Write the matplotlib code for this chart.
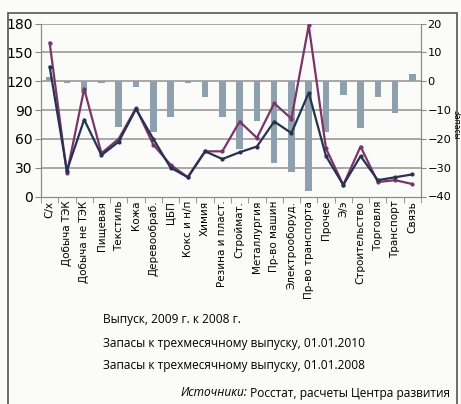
import numpy as np
import matplotlib.pyplot as plt
from matplotlib.patches import Rectangle

plt.rcParams['font.family'] = ['Liberation Sans Narrow', 'DejaVu Sans']

branches = ['С/х', 'Добыча ТЭК', 'Добыча не ТЭК', 'Пищевая', 'Текстиль', 'Кожа',
            'Деревообраб.', 'ЦБП', 'Кокс и н/п', 'Химия', 'Резина и пласт.',
            'Строймат.', 'Металлургия', 'Пр-во машин', 'Электрооборуд.',
            'Пр-во транспорта', 'Прочее', 'Э/э', 'Строительство', 'Торговля',
            'Транспорт', 'Связь']
# выпуск 2009 к 2008, % (правая ось)
output_chg = [1.5, -0.5, -4, -0.5, -15.8, -2.1, -17.5, -12.5, -0.6, -5.4, -12.3,
              -23.6, -13.8, -28.5, -31.6, -38, -17.8, -4.8, -16.4, -5.4, -11.1, 2.5]
# запасы к трехмесячному выпуску (левая ось)
stock_2010 = [160, 24, 112, 45, 60, 92, 54, 33, 20, 47, 47,
              78, 61, 97, 81, 178, 50, 12, 52, 15, 17, 13]
stock_2008 = [135, 27, 80, 43, 57, 91, 60, 30, 20, 47, 39,
              46, 52, 78, 66, 108, 42, 12, 42, 17, 20, 23]

bg = '#fbfbf9'
fig = plt.figure(figsize=(4.61, 4.04), dpi=100, facecolor=bg)
fig.patches.append(Rectangle((8 / 461, -0.01), 449 / 461, 1 - 13 / 404 + 0.01,
                             transform=fig.transFigure, fill=False,
                             edgecolor='#555555', lw=1.2))

ax2 = fig.add_axes([41 / 461, 1 - 196.5 / 404, 380 / 461, 173 / 404])
ax1 = ax2.twinx()
ax2.set_facecolor(bg)

x = np.arange(len(branches))
ax2.bar(x, output_chg, width=0.38, color='#8e9fae', zorder=3)
ax2.set_ylim(-40, 20)
ax2.set_yticks(range(-40, 21, 10))
ax2.yaxis.tick_right()
for v in range(-30, 21, 10):
    ax2.axhline(v, color='#9a9a9a', lw=1.2, zorder=1)

ax1.set_zorder(ax2.get_zorder() + 1)
ax1.patch.set_visible(False)
ax1.yaxis.tick_left()
ax1.plot(x, stock_2010, color='#7a3568', lw=1.6, marker='o', ms=2)
ax1.plot(x, stock_2008, color='#263250', lw=1.6, marker='o', ms=2)
ax1.set_ylim(0, 180)
ax1.set_yticks(range(0, 181, 30))

ax2.set_xlim(-0.5, len(branches) - 0.5)
ax2.set_xticks(x)
ax2.set_xticklabels(branches, rotation=90, fontsize=7.5)
ax2.set_xticks(np.arange(-0.5, len(branches), 1), minor=True)
ax2.tick_params(axis='x', which='major', length=0, pad=3)
ax2.tick_params(axis='x', which='minor', length=4, color='#888888')
ax2.tick_params(axis='y', labelsize=8.2, length=3.5, color='#888888', pad=1)
ax1.tick_params(axis='y', labelsize=10, length=4, color='#888888', pad=2)

for a in (ax1, ax2):
    a.spines['top'].set_visible(False)
    for s in ('left', 'right', 'bottom'):
        a.spines[s].set_color('#8a8a8a')

leg_font = ['Open Sans', 'DejaVu Sans']
fs = 8.6
fig.text(103 / 461, 1 - 320 / 404, 'Выпуск, 2009 г. к 2008 г.', fontsize=fs,
         family=leg_font, va='center')
fig.text(103 / 461, 1 - 343 / 404, 'Запасы к трехмесячному выпуску, 01.01.2010',
         fontsize=fs, family=leg_font, va='center')
fig.text(103 / 461, 1 - 366 / 404, 'Запасы к трехмесячному выпуску, 01.01.2008',
         fontsize=fs, family=leg_font, va='center')

src = fig.text(450 / 461, 1 - 393 / 404, ' Росстат, расчеты Центра развития',
               fontsize=fs, family=leg_font, va='center', ha='right')
fig.canvas.draw()
x0 = src.get_window_extent().x0 / fig.bbox.width
fig.text(x0, 1 - 393 / 404, 'Источники:', fontsize=fs, family=leg_font,
         style='italic', va='center', ha='right')

# подпись правой оси — сразу за подписями делений
r = fig.canvas.get_renderer()
x1 = max(t.get_window_extent(r).x1 for t in ax2.get_yticklabels())
fig.text((x1 + 0.5) / fig.bbox.width, 1 - 125 / 404, 'Запасы', rotation=270,
         fontsize=5.5, ha='left', va='center')

fig.savefig('out.png', dpi=100, facecolor=bg)
